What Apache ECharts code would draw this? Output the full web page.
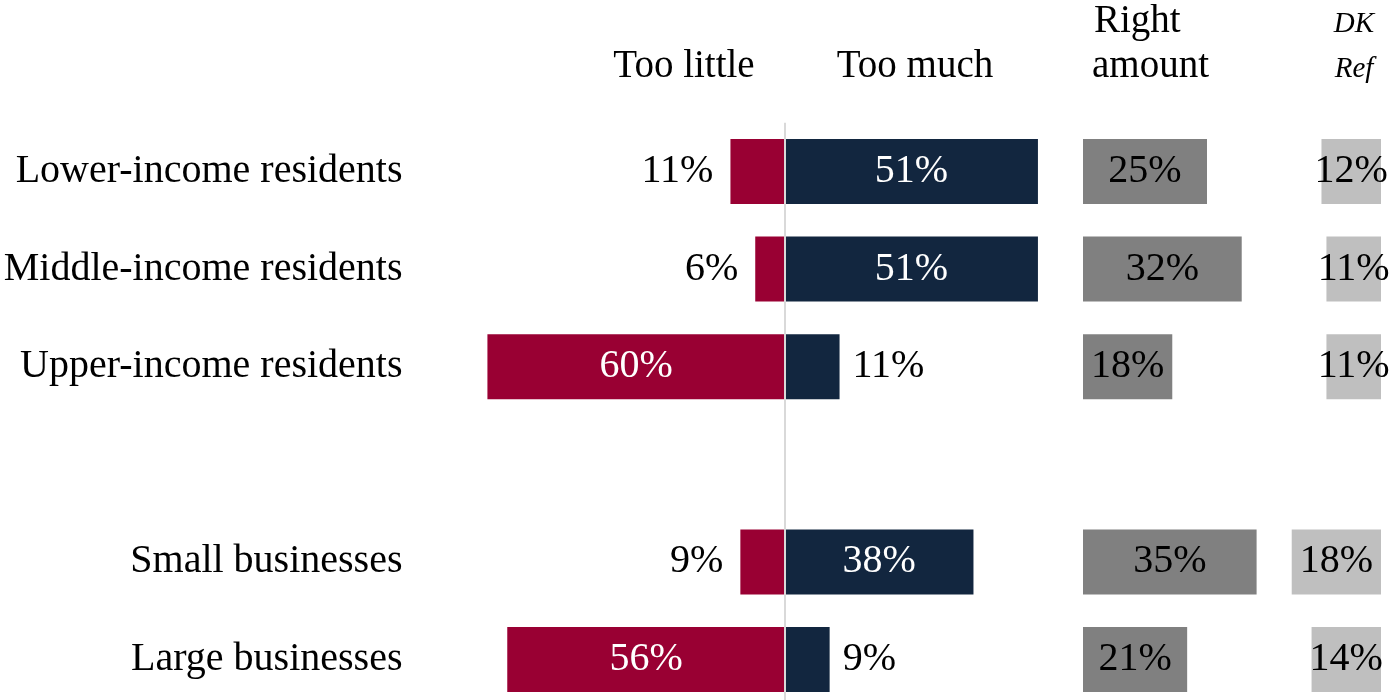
<!DOCTYPE html>
<html>
<head>
<meta charset="utf-8">
<script src="https://cdn.jsdelivr.net/npm/echarts@6/dist/echarts.min.js"></script>
<style>
  html, body { margin: 0; padding: 0; background: #ffffff; }
  #chart { width: 1393px; height: 700px; }
</style>
</head>
<body>
<div id="chart"></div>
<script>
// Groups (blank entry leaves a gap between residents and businesses)
const categories = [
  'Lower-income residents',
  'Middle-income residents',
  'Upper-income residents',
  '',
  'Small businesses',
  'Large businesses'
];
// Shares in percent
const tooLittle   = [11, 6, 60, null, 9, 56];
const tooMuch     = [51, 51, 11, null, 38, 9];
const rightAmount = [25, 32, 18, null, 35, 21];
const dkRef       = [12, 11, 11, null, 18, 14];

const FONT = '"Liberation Serif", "DejaVu Serif", serif';
const FS = 40;
const C_LITTLE = '#990033';
const C_MUCH = '#12263f';
const C_RIGHT = '#808080';
const C_DK = '#bfbfbf';

// Category centres run from the first row to the last row
const ROW_TOP = 171.5;
const ROW_SPAN = 488;

const pct = v => Math.abs(v) + '%';

// Large bars carry a white label inside; small ones a black label outside
function divergingItems(values, sign, outsidePos, dist) {
  return values.map(v => {
    if (v == null) return { value: null };
    const inside = v >= 20;
    return {
      value: sign * v,
      label: {
        show: true,
        position: inside ? 'inside' : outsidePos,
        distance: dist,
        color: inside ? '#ffffff' : '#000000',
        fontFamily: FONT,
        fontSize: FS,
        formatter: p => pct(p.value)
      }
    };
  });
}

const chart = echarts.init(document.getElementById('chart'), null, { renderer: 'canvas' });

const catAxis = (gridIndex, showLabels) => ({
  type: 'category',
  gridIndex,
  data: categories,
  inverse: true,
  boundaryGap: false,
  axisLine: { show: false },
  axisTick: { show: false },
  splitLine: { show: false },
  axisLabel: {
    show: showLabels,
    margin: 75,
    color: '#000000',
    fontFamily: FONT,
    fontSize: FS
  }
});

const valAxis = (gridIndex, min, max, inverse) => ({
  type: 'value',
  gridIndex,
  min, max,
  inverse: !!inverse,
  show: false,
  splitLine: { show: false }
});

const headerText = (x, y, text, extra) => ({
  type: 'text',
  x, y,
  style: Object.assign({
    text,
    fill: '#000000',
    font: '39px ' + FONT,
    textAlign: 'center',
    textVerticalAlign: 'middle'
  }, extra || {})
});

chart.setOption({
  animation: false,
  backgroundColor: '#ffffff',
  grid: [
    // diverging: too little / too much, zero at x = 785
    { left: 477.5, width: 565.4, top: ROW_TOP, height: ROW_SPAN },
    // right amount
    { left: 1083, width: 198.4, top: ROW_TOP, height: ROW_SPAN },
    // don't know / refused, anchored at the right edge
    { left: 1281.8, width: 99.2, top: ROW_TOP, height: ROW_SPAN },
    // full-height strip holding the zero divider
    { left: 477.5, width: 565.4, top: 122.7, bottom: 0 }
  ],
  xAxis: [
    valAxis(0, -62, 52),
    valAxis(1, 0, 40),
    valAxis(2, 0, 20, true),
    valAxis(3, -62, 52)
  ],
  yAxis: [
    catAxis(0, true),
    catAxis(1, false),
    catAxis(2, false),
    { type: 'value', gridIndex: 3, min: 0, max: 1, show: false, splitLine: { show: false } }
  ],
  series: [
    {
      name: 'Too little',
      type: 'bar',
      stack: 'div',
      xAxisIndex: 0, yAxisIndex: 0,
      barWidth: 65,
      itemStyle: { color: C_LITTLE },
      data: divergingItems(tooLittle, -1, 'left', 17)
    },
    {
      name: 'Too much',
      type: 'bar',
      stack: 'div',
      xAxisIndex: 0, yAxisIndex: 0,
      barWidth: 65,
      itemStyle: { color: C_MUCH },
      data: divergingItems(tooMuch, 1, 'right', 13)
    },
    {
      name: 'Right amount',
      type: 'bar',
      xAxisIndex: 1, yAxisIndex: 1,
      barWidth: 65,
      itemStyle: { color: C_RIGHT },
      label: {
        show: true, position: 'inside', color: '#000000',
        fontFamily: FONT, fontSize: FS, formatter: p => pct(p.value)
      },
      data: rightAmount
    },
    {
      name: 'DK/Ref',
      type: 'bar',
      xAxisIndex: 2, yAxisIndex: 2,
      barWidth: 65,
      itemStyle: { color: C_DK },
      label: {
        show: true, position: 'inside', color: '#000000',
        fontFamily: FONT, fontSize: FS, formatter: p => pct(p.value)
      },
      data: dkRef
    },
    {
      name: 'zero',
      type: 'line',
      xAxisIndex: 3, yAxisIndex: 3,
      data: [],
      z: 5,
      markLine: {
        silent: true,
        symbol: 'none',
        label: { show: false },
        lineStyle: { color: '#d9d9d9', width: 2, type: 'solid' },
        data: [{ xAxis: 0 }]
      }
    }
  ],
  graphic: [
    headerText(684, 67, 'Too little'),
    headerText(915, 67, 'Too much'),
    headerText(1094, 22, 'Right', { textAlign: 'left' }),
    headerText(1092, 67, 'amount', { textAlign: 'left' }),
    headerText(1354, 24, 'DK', { font: 'italic 29px ' + FONT }),
    headerText(1354, 69, 'Ref', { font: 'italic 29px ' + FONT })
  ]
});
</script>
</body>
</html>
